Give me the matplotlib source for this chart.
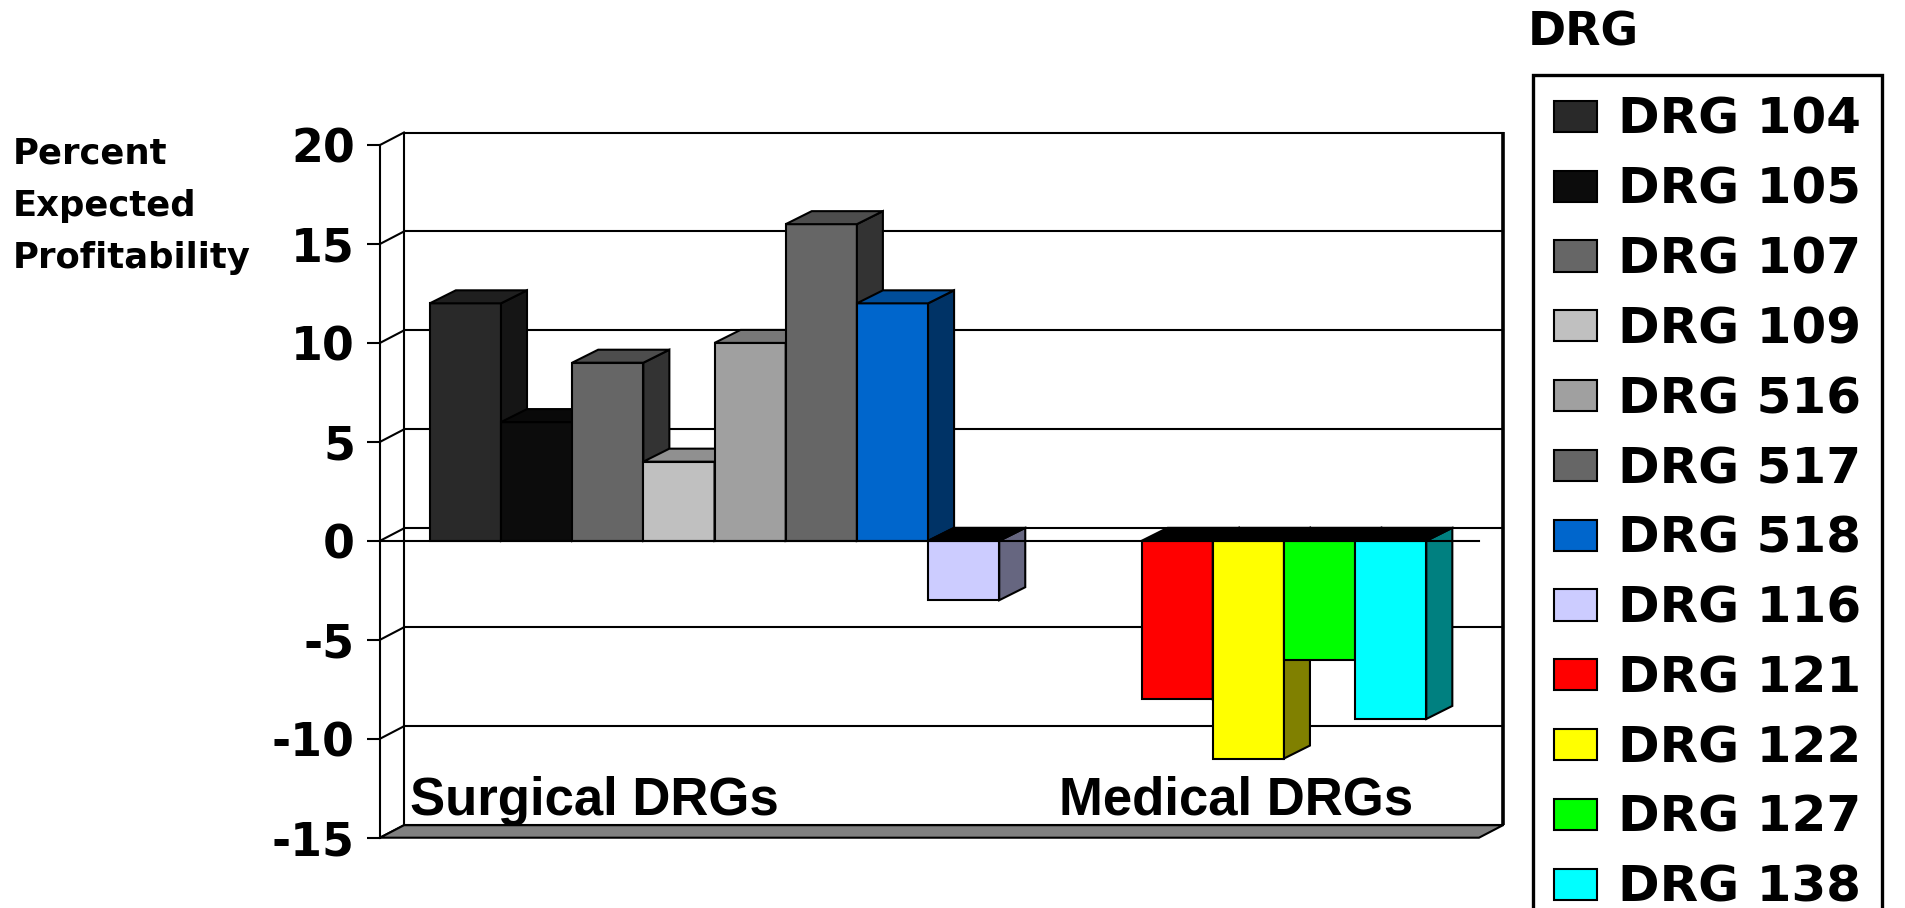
import matplotlib
matplotlib.use("Agg")
import numpy as np
import matplotlib.pyplot as plt
from matplotlib.patches import Polygon, Rectangle
from matplotlib.colors import to_rgb

# ---- data -------------------------------------------------------------
drg_names = ["DRG 104", "DRG 105", "DRG 107", "DRG 109", "DRG 516", "DRG 517",
             "DRG 518", "DRG 116", "DRG 121", "DRG 122", "DRG 127", "DRG 138"]
profitability = [12, 6, 9, 4, 10, 16, 12, -3, -8, -11, -6, -9]
drg_group = [0, 0, 0, 0, 0, 0, 0, 0, 1, 1, 1, 1]
group_labels = ["Surgical DRGs", "Medical DRGs"]
bar_colors = ["#292929", "#0c0c0c", "#666666", "#c0c0c0", "#a0a0a0", "#666666",
              "#0066cc", "#ccccff", "#ff0000", "#ffff00", "#00ff00", "#00ffff"]
y_ticks = [-15, -10, -5, 0, 5, 10, 15, 20]
y_label_lines = ["Percent", "Expected", "Profitability"]
legend_title = "DRG"

# ---- figure / axes ------------------------------------------------------
W, H, DPI = 1906, 908, 100
plt.rcParams["font.family"] = ["DejaVu Sans"]
plt.rcParams["axes.unicode_minus"] = False

fig = plt.figure(figsize=(W / DPI, H / DPI), dpi=DPI)
fig.patch.set_facecolor("white")

ax_l, ax_r, ax_t, ax_b = 380, 1479, 145, 837.7
ax = fig.add_axes([ax_l / W, 1 - ax_b / H, (ax_r - ax_l) / W, (ax_b - ax_t) / H])
ax.set_facecolor("none")

GAP_SLOTS = 2  # empty bar slots between the surgical and medical groups
x_pos = np.arange(len(profitability)) + GAP_SLOTS * np.array(drg_group)
x0, x1 = -0.70, x_pos[-1] + 1 + 0.74
ymin, ymax = y_ticks[0], y_ticks[-1]
ax.set_xlim(x0, x1)
ax.set_ylim(ymin, ymax)

# pixel -> data conversion for the 3-D depth offsets
px_x = (ax_r - ax_l) / (x1 - x0)
px_y = (ax_b - ax_t) / (ymax - ymin)
wdx, wdy = 24 / px_x, 12.5 / px_y      # walls
bdx, bdy = 26 / px_x, 13 / px_y        # columns
LW = 1.5

# back wall
ax.add_patch(Rectangle((x0 + wdx, ymin + wdy), x1 - x0, ymax - ymin,
                       facecolor="white", edgecolor="black", lw=LW,
                       clip_on=False, zorder=0.5))
ax.plot([x1 + wdx] * 2, [ymin + wdy, ymax + wdy], color="black", lw=2.6,
        clip_on=False, zorder=0.55, solid_capstyle="butt")
for v in y_ticks[1:-1]:
    ax.plot([x0 + wdx, x1 + wdx], [v + wdy] * 2, color="black", lw=LW,
            clip_on=False, zorder=0.6)
# side wall connectors
for v in y_ticks:
    ax.plot([x0, x0 + wdx], [v, v + wdy], color="black", lw=LW,
            clip_on=False, zorder=0.6)
# floor
ax.add_patch(Polygon([(x0, ymin), (x1, ymin), (x1 + wdx, ymin + wdy),
                      (x0 + wdx, ymin + wdy)], closed=True,
                     facecolor="#808080", edgecolor="black", lw=LW,
                     clip_on=False, zorder=0.7))

# columns with top and side faces
bars = ax.bar(x_pos, profitability, width=1.0, align="edge", color=bar_colors,
              edgecolor="black", linewidth=LW)
for i, (rect, v, c) in enumerate(zip(bars, profitability, bar_colors)):
    z = 3 + i * 0.01
    rect.set_zorder(z)
    left = rect.get_x()
    right = left + rect.get_width()
    rgb = np.array(to_rgb(c))
    top_y = max(v, 0)
    top_col = rgb * 0.75 if v > 0 else (0, 0, 0)
    side = Polygon([(right, 0), (right, v), (right + bdx, v + bdy),
                    (right + bdx, bdy)], closed=True, facecolor=rgb * 0.5,
                   edgecolor="black", lw=LW, clip_on=False, zorder=z + 0.004)
    top = Polygon([(left, top_y), (right, top_y), (right + bdx, top_y + bdy),
                   (left + bdx, top_y + bdy)], closed=True, facecolor=top_col,
                  edgecolor="black", lw=LW, clip_on=False, zorder=z + 0.005)
    ax.add_patch(side)
    ax.add_patch(top)

# front zero line
ax.plot([x0, x1], [0, 0], color="black", lw=LW, zorder=10, clip_on=False)

# axes styling
for s in ("top", "right", "bottom"):
    ax.spines[s].set_visible(False)
ax.spines["left"].set_linewidth(LW)
ax.spines["left"].set_zorder(11)
ax.set_xticks([])
ax.set_yticks(y_ticks)
ax.set_yticklabels([str(t) for t in y_ticks], fontsize=33, fontweight="bold")
ax.tick_params(axis="y", direction="out", length=9.4, width=LW, pad=8.6)

# group labels
label_x = [-0.28, 8.84]
for lx, txt in zip(label_x, group_labels):
    ax.text(lx, -13.85, txt, ha="left", va="baseline", fontsize=38,
            fontweight="bold", family=["Liberation Sans", "DejaVu Sans"],
            zorder=12)

# value axis title
for line, base in zip(y_label_lines, [163.5, 216, 268]):
    fig.text(13 / W, 1 - base / H, line, ha="left", va="baseline",
             fontsize=25.5, fontweight="bold")

# legend
fig.text(1528 / W, 1 - 46 / H, legend_title, ha="left", va="baseline",
         fontsize=33, fontweight="bold")
leg = fig.legend(list(bars), drg_names, loc="upper left",
                 bbox_to_anchor=(1533 / W, 1 - 75 / H),
                 bbox_transform=fig.transFigure, borderaxespad=0,
                 prop={"weight": "bold", "size": 36},
                 handlelength=0.86, handleheight=0.58, handletextpad=0.42,
                 borderpad=0.42, labelspacing=0.436, frameon=True,
                 fancybox=False, framealpha=1, edgecolor="black")
leg.get_frame().set_linewidth(2.4)

fig.savefig("out.png", dpi=DPI)
